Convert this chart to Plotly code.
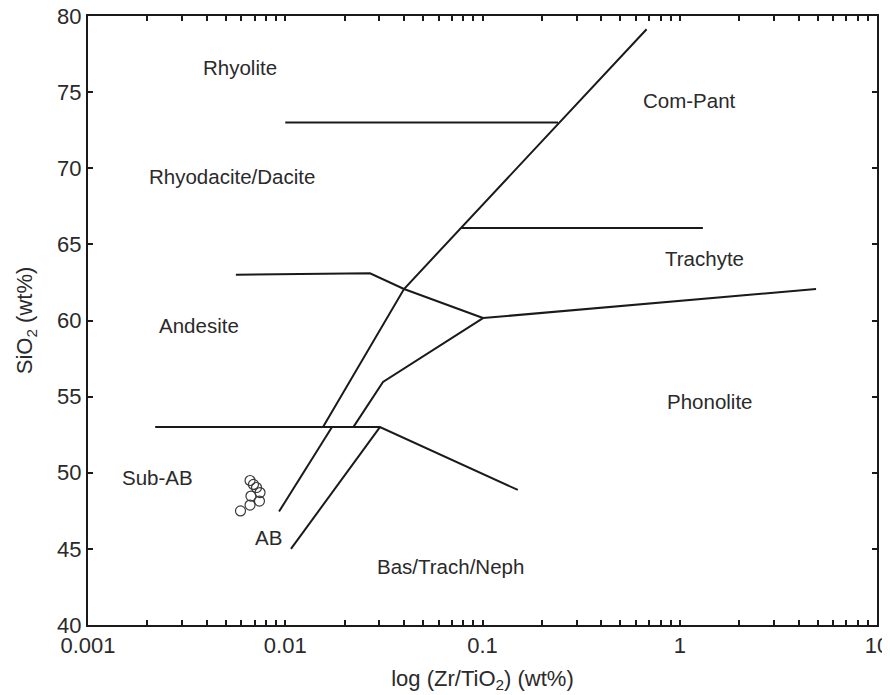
import math
import plotly.graph_objects as go

# Sample data (Zr/TiO2, SiO2)
sample_zr_tio2 = [0.00663, 0.0069, 0.00715, 0.00745, 0.0067, 0.0074, 0.00663, 0.00593]
sample_sio2 = [49.49, 49.23, 49.03, 48.70, 48.47, 48.14, 47.88, 47.49]

# Field boundaries (x = Zr/TiO2, y = SiO2)
b_rhyolite_x = [0.01, 0.2415]
b_rhyolite_y = [73.0, 73.0]
b_main_x = [0.01554, 0.0400, 0.679]
b_main_y = [53.0, 62.07, 79.13]
b_subab_x = [0.0093, 0.01726]
b_subab_y = [47.45, 53.0]
b_ab_x = [0.01069, 0.0302]
b_ab_y = [45.0, 53.0]
b_trach_x = [0.02214, 0.0313, 0.1006]
b_trach_y = [53.0, 55.96, 60.16]
b_andesite_x = [0.00562, 0.0269, 0.0400, 0.1006]
b_andesite_y = [63.0, 63.1, 62.07, 60.16]
b_phon_x = [0.1006, 4.91]
b_phon_y = [60.16, 62.07]
b_compant_x = [0.0778, 1.31]
b_compant_y = [66.08, 66.08]
b_basalt_x = [0.00219, 0.0302, 0.151]
b_basalt_y = [53.0, 53.0, 48.87]

boundaries = [
    (b_rhyolite_x, b_rhyolite_y), (b_main_x, b_main_y), (b_subab_x, b_subab_y),
    (b_ab_x, b_ab_y), (b_trach_x, b_trach_y), (b_andesite_x, b_andesite_y),
    (b_phon_x, b_phon_y), (b_compant_x, b_compant_y), (b_basalt_x, b_basalt_y),
]

# Field labels
field_names = ["Rhyolite", "Com-Pant", "Rhyodacite/Dacite", "Trachyte", "Andesite",
               "Phonolite", "Sub-AB", "AB", "Bas/Trach/Neph"]
field_x = [0.0059, 1.127, 0.00537, 1.34, 0.00365, 1.42, 0.00226, 0.00827, 0.0692]
field_y = [76.6, 74.48, 69.49, 64.1, 59.7, 54.65, 49.66, 45.78, 43.81]

# Ticks
x_major = [0.001, 0.01, 0.1, 1, 10]
x_major_text = ["0.001", "0.01", "0.1", "1", "10"]
x_tick_vals = [m * d for d in x_major[:-1] for m in range(1, 10)] + [x_major[-1]]
x_tick_text = [x_major_text[x_major.index(v)] if v in x_major else "" for v in x_tick_vals]
y_tick_vals = [40, 45, 50, 55, 60, 65, 70, 75, 80]

fig = go.Figure()
line_color = "#1a1a1a"
text_color = "#2a2a2a"
for bx, by in boundaries:
    fig.add_trace(go.Scatter(x=bx, y=by, mode="lines",
                             line=dict(color=line_color, width=2),
                             hoverinfo="skip", showlegend=False))

fig.add_trace(go.Scatter(x=sample_zr_tio2, y=sample_sio2, mode="markers",
                         marker=dict(symbol="circle-open", size=10, color="#3a3a3a",
                                     line=dict(color="#3a3a3a", width=1.2)),
                         showlegend=False))

for name, fx, fy in zip(field_names, field_x, field_y):
    fig.add_annotation(x=math.log10(fx), y=fy, xref="x", yref="y", text=name,
                       showarrow=False, font=dict(size=20.5, color=text_color))

font_family = "Liberation Sans, Arial, sans-serif"
fig.update_layout(
    width=890, height=695,
    margin=dict(l=80, r=21, t=8, b=78, autoexpand=False),
    plot_bgcolor="white", paper_bgcolor="white",
    font=dict(family=font_family, color=text_color),
    xaxis=dict(type="log", range=[-3, 1], tickvals=x_tick_vals, ticktext=x_tick_text,
               ticks="inside", ticklen=5, tickwidth=1.5, tickcolor=line_color,
               showline=True, linecolor=line_color, linewidth=2, mirror="ticks",
               showgrid=False, zeroline=False, tickfont=dict(size=22), automargin=False,
               ticklabeloverflow="allow",
               title=dict(text="log (Zr/TiO<sub>2</sub>) (wt%)", font=dict(size=22), standoff=13)),
    yaxis=dict(range=[40, 80], tickvals=y_tick_vals,
               ticks="inside", ticklen=5, tickwidth=1.5, tickcolor=line_color,
               showline=True, linecolor=line_color, linewidth=2, mirror="ticks",
               showgrid=False, zeroline=False, tickfont=dict(size=22), automargin=False,
               ticklabeloverflow="allow",
               title=dict(text="SiO<sub>2</sub> (wt%)", font=dict(size=22), standoff=18)),
)

fig.write_html("out.html")
